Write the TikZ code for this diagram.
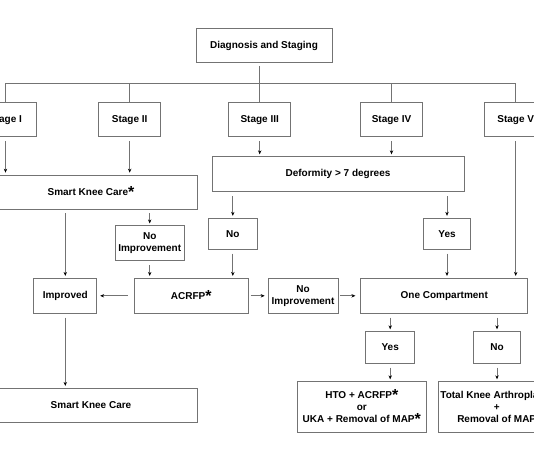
\documentclass[tikz,border=0pt]{standalone}
\usepackage{fontspec}
\setmainfont{Liberation Sans}
\usetikzlibrary{arrows.meta, calc}
\definecolor{LineGray}{RGB}{115,115,115}
\newcommand{\astk}{\smash{\raisebox{-2pt}{\fontsize{16}{16}\selectfont*}}}

\begin{document}
\begin{tikzpicture}[x=1pt, y=-1pt, font=\fontsize{10}{12}\selectfont\bfseries,
	fl/.style={-{Stealth[length=4pt, width=3.4pt, black]}, line width=0.7pt, LineGray, shorten <=4pt, shorten >=2pt},
	ln/.style={line width=0.7pt, LineGray},
	box/.style={draw=LineGray, line width=0.7pt, align=center, inner sep=1pt, minimum height=34pt}]

	\useasboundingbox (0,0) rectangle (534,462);
	\clip (0,0) rectangle (534,462);

	% ---------- diagnosis and stages ----------
	\node[box, minimum width=136pt] (diag) at (264,45.5) {Diagnosis and Staging};
	\foreach \n/\x/\t in {1/5.5/I, 2/129.7/II, 3/259.7/III, 4/391.5/IV, 5/515.7/V}{
		\node[box, minimum width=62pt] (s\n) at (\x,119.7) {Stage \t};
	}
	\coordinate (bus) at (0,83.3);
	\draw[ln, shorten <=3pt] (diag.south -| s3) -- (s3.north);
	\draw[ln] (s1.north) |- (bus -| s5) -- (s5.north);
	\foreach \n in {2,4}{\draw[ln] (s\n.north) -- (s\n.north |- bus);}

	% ---------- conservative branch ----------
	\node[box, minimum width=212pt] (skc) at (91,192) {Smart Knee Care\astk};
	\node[box, minimum width=69pt, minimum height=35pt] (ni1) at (149.7,243.3) {No\\Improvement};
	\node[box, minimum width=63pt, minimum height=35pt] (imp) at (65.3,295.8) {Improved};
	\node[box, minimum width=114pt, minimum height=35pt] (acr) at (191.3,295.8) {ACRFP\astk};
	\node[box, minimum width=212pt] (skc2) at (91,405.3) {Smart Knee Care};

	% ---------- deformity branch ----------
	\node[box, minimum width=252pt, minimum height=35pt] (def) at (338,174.2) {Deformity > 7 degrees};
	\node[box, minimum width=49pt, minimum height=31pt] (no1) at (232.8,233.7) {No};
	\node[box, minimum width=47pt, minimum height=31pt] (yes1) at (447,233.7) {Yes};
	\node[box, minimum width=70pt, minimum height=35pt] (ni2) at (303,295.8) {No\\Improvement};
	\node[box, minimum width=167pt, minimum height=35pt] (one) at (444.3,295.8) {One Compartment};
	\node[box, minimum width=49pt, minimum height=31.6pt] (yes2) at (390.2,347.5) {Yes};
	\node[box, minimum width=47pt, minimum height=31.6pt] (no2) at (497,347.5) {No};
	\node[box, minimum width=129pt, minimum height=51pt] (hto) at (361.8,407.2) {HTO + ACRFP\astk\\or\\UKA + Removal of MAP\astk};
	\node[box, minimum width=117pt, minimum height=51pt] (tka) at (496.7,407.2) {Total Knee Arthroplasty\\+\\Removal of MAP};

	% ---------- connectors ----------
	\foreach \n in {1,2}{\draw[fl] (s\n.south) -- (s\n.south |- skc.north);}
	\foreach \n in {3,4}{\draw[fl] (s\n.south) -- (s\n.south |- def.north);}
	\draw[fl] (s5.south) -- (s5.south |- one.north);
	\draw[fl] (skc.south -| ni1) -- (ni1.north);
	\draw[fl] (skc.south -| imp) -- (imp.north);
	\draw[fl] (ni1.south) -- (ni1.south |- acr.north);
	\draw[fl] (def.south -| no1) -- (no1.north);
	\draw[fl] (def.south -| yes1) -- (yes1.north);
	\draw[fl] (no1.south) -- (no1.south |- acr.north);
	\draw[fl] (yes1.south) -- (yes1.south |- one.north);
	\draw[fl, shorten <=6pt, shorten >=3pt] (acr.west) -- (imp.east);
	\draw[fl, shorten <=2pt, shorten >=3pt] (acr.east) -- (ni2.west);
	\draw[fl, shorten <=2pt, shorten >=5pt] (ni2.east) -- (one.west);
	\draw[fl] (imp.south) -- (imp.south |- skc2.north);
	\draw[fl] (one.south -| yes2) -- (yes2.north);
	\draw[fl] (one.south -| no2) -- (no2.north);
	\draw[fl] (yes2.south) -- (yes2.south |- hto.north);
	\draw[fl] (no2.south) -- (no2.south |- tka.north);
\end{tikzpicture}
\end{document}
